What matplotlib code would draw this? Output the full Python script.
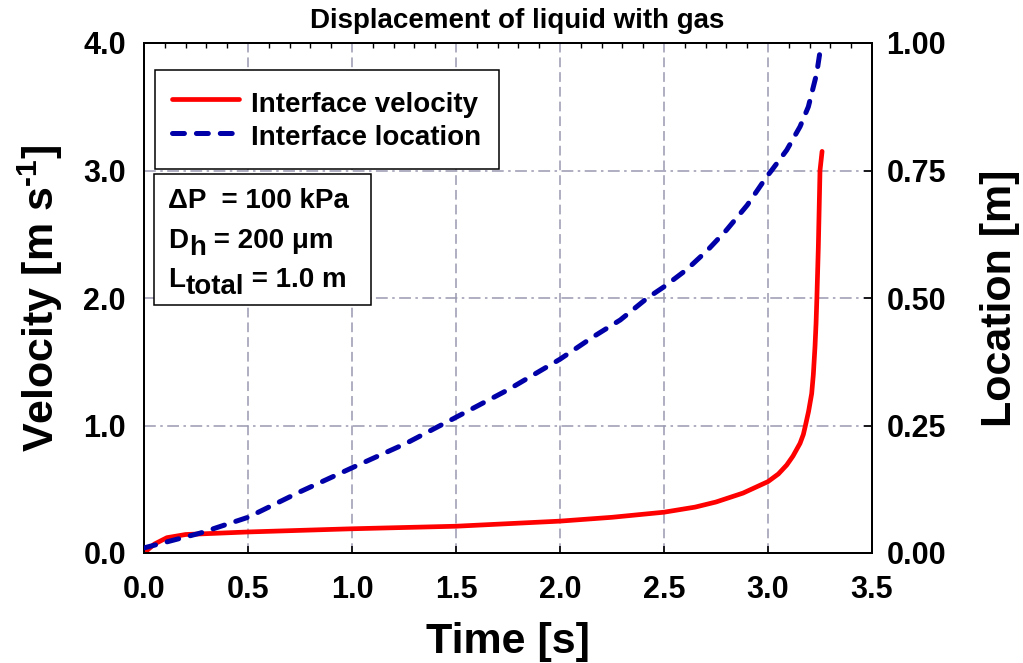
import matplotlib
matplotlib.use("Agg")
import matplotlib.pyplot as plt
from matplotlib.patches import Rectangle
from matplotlib.ticker import MultipleLocator, FixedLocator, FixedFormatter

# Interface velocity vs. time
t_vel = [0.0, 0.05, 0.11, 0.20, 0.50, 1.00, 1.50, 2.00, 2.25, 2.50, 2.65, 2.75,
         2.88, 3.00, 3.05, 3.09, 3.12, 3.154, 3.17, 3.18, 3.195, 3.21, 3.218,
         3.226, 3.231, 3.235, 3.242, 3.25, 3.26]
velocity = [0.00, 0.07, 0.12, 0.145, 0.165, 0.19, 0.21, 0.25, 0.28, 0.32, 0.36, 0.40,
            0.47, 0.56, 0.62, 0.69, 0.76, 0.86, 0.93, 1.00, 1.11, 1.25, 1.40,
            1.62, 1.80, 2.00, 2.40, 3.00, 3.15]

# Interface location vs. time
t_loc = [0.0, 0.27, 0.50, 0.75, 1.00, 1.26, 1.49, 1.75, 2.00, 2.16, 2.29, 2.42,
         2.50, 2.61, 2.71, 2.80, 2.90, 2.994, 3.017, 3.09, 3.154, 3.194, 3.234,
         3.25, 3.256]
location = [0.010, 0.039, 0.070, 0.120, 0.167, 0.215, 0.264, 0.320, 0.380, 0.424,
            0.457, 0.500, 0.522, 0.556, 0.594, 0.633, 0.682, 0.738, 0.750, 0.790,
            0.836, 0.875, 0.940, 0.983, 0.990]

x_ticks = [0.0, 0.5, 1.0, 1.5, 2.0, 2.5, 3.0, 3.5]
x_labels = ["0.0", "0.5", "1.0", "1.5", "2.0", "2.5", "3.0", "3.5"]
v_ticks = [0.0, 1.0, 2.0, 3.0, 4.0]
v_labels = ["0.0", "1.0", "2.0", "3.0", "4.0"]
loc_ticks = [0.0, 0.25, 0.50, 0.75, 1.00]
loc_labels = ["0.00", "0.25", "0.50", "0.75", "1.00"]

FONT = "Liberation Sans"
plt.rcParams["font.family"] = FONT
plt.rcParams["font.weight"] = "bold"
plt.rcParams["axes.labelweight"] = "bold"
plt.rcParams["axes.titleweight"] = "bold"
plt.rcParams["mathtext.fontset"] = "custom"
plt.rcParams["mathtext.rm"] = "Liberation Sans:bold"
plt.rcParams["mathtext.default"] = "regular"
plt.rcParams["lines.scale_dashes"] = False

GRID = "#9898b0"

fig = plt.figure(figsize=(10.23, 6.63), dpi=100)
ax = fig.add_axes([144 / 1023, 110 / 663, 728 / 1023, 510 / 663])
ax2 = ax.twinx()

ax.set_xlim(0, 3.5)
ax.set_ylim(0, 4.0)
ax2.set_ylim(0, 1.0)

# grid: dashed verticals, dash-dot horizontals
ax.set_axisbelow(True)
ax.xaxis.set_major_locator(FixedLocator(x_ticks))
ax.xaxis.set_major_formatter(FixedFormatter(x_labels))
ax.xaxis.set_minor_locator(MultipleLocator(0.1))
ax.yaxis.set_major_locator(FixedLocator(v_ticks))
ax.yaxis.set_major_formatter(FixedFormatter(v_labels))
ax2.yaxis.set_major_locator(FixedLocator(loc_ticks))
ax2.yaxis.set_major_formatter(FixedFormatter(loc_labels))

ax.grid(axis="x", which="major", color=GRID, lw=1.1, linestyle=(0, (7, 3.6)))
ax.grid(axis="y", which="major", color=GRID, lw=1.1, linestyle=(0, (8.5, 3.2, 1.8, 3.2)))

ax.tick_params(axis="x", which="major", direction="in", length=5, width=1.2,
               bottom=True, top=False, labelsize=22, pad=16)
ax.tick_params(axis="x", which="minor", direction="in", length=3.6, width=1.0,
               bottom=False, top=True)
ax.tick_params(axis="y", which="major", length=0, labelsize=22, pad=13)
ax2.tick_params(axis="y", which="major", direction="in", length=5.5, width=1.2,
                labelsize=22, pad=10.5)

for a in (ax, ax2):
    for s in a.spines.values():
        s.set_linewidth(1.4)
        s.set_color("black")

line_v, = ax.plot(t_vel, velocity, color="#ff0000", lw=3.4, solid_capstyle="round",
                  solid_joinstyle="round", label="Interface velocity", zorder=3)
line_l, = ax2.plot(t_loc, location, color="#0000a8", lw=3.6,
                   linestyle=(0, (8.6, 8.6)), dash_capstyle="round",
                   label="Interface location", zorder=3)

ax.set_xlabel("Time [s]", fontsize=31, fontweight="bold", labelpad=12)
ax.set_ylabel(r"Velocity [m s$^{\text{-}1}$]", fontsize=31, fontweight="bold", labelpad=13)
ax2.set_ylabel("Location [m]", fontsize=31, fontweight="bold", labelpad=24)
ax.set_title("Displacement of liquid with gas", fontsize=20, fontweight="bold",
             pad=11, x=0.512)

leg = ax2.legend(handles=[line_v, line_l], loc="upper left",
                 bbox_to_anchor=(0.015, 0.947), borderaxespad=0,
                 prop={"family": FONT, "weight": "bold", "size": 20},
                 handlelength=2.4, handleheight=1.3, handletextpad=0.45,
                 labelspacing=0.12, borderpad=0.62, fancybox=False, framealpha=1,
                 edgecolor="black")
leg.get_frame().set_linewidth(1.1)
leg.set_zorder(10)

# parameter box
ax2.add_patch(Rectangle((0.0137, 0.486), 0.298, 0.257, transform=ax2.transAxes,
                        facecolor="white", edgecolor="black", lw=1.1, zorder=8))
fs = 20
kw = dict(fontsize=fs, fontweight="bold", zorder=9)
ax2.text(0.033, 0.676, "ΔP  = 100 kPa", transform=ax2.transAxes, va="baseline", **kw)

t_d = ax2.text(0.033, 0.598, "D", transform=ax2.transAxes, va="baseline", **kw)
t_h = ax2.annotate("h", xy=(1, 0), xycoords=t_d, xytext=(0.5, -5),
                   textcoords="offset points", va="bottom", ha="left", **kw)
ax2.annotate(" = 200 μm", xy=(1, 0), xycoords=(t_h, t_d), va="bottom", ha="left", **kw)

t_L = ax2.text(0.033, 0.522, "L", transform=ax2.transAxes, va="baseline", **kw)
t_tot = ax2.annotate("total", xy=(1, 0), xycoords=t_L, xytext=(0.5, -5.5),
                     textcoords="offset points", va="bottom", ha="left", **kw)
ax2.annotate(" = 1.0 m", xy=(1, 0), xycoords=(t_tot, t_L), va="bottom", ha="left", **kw)

fig.savefig("out.png", dpi=100)
